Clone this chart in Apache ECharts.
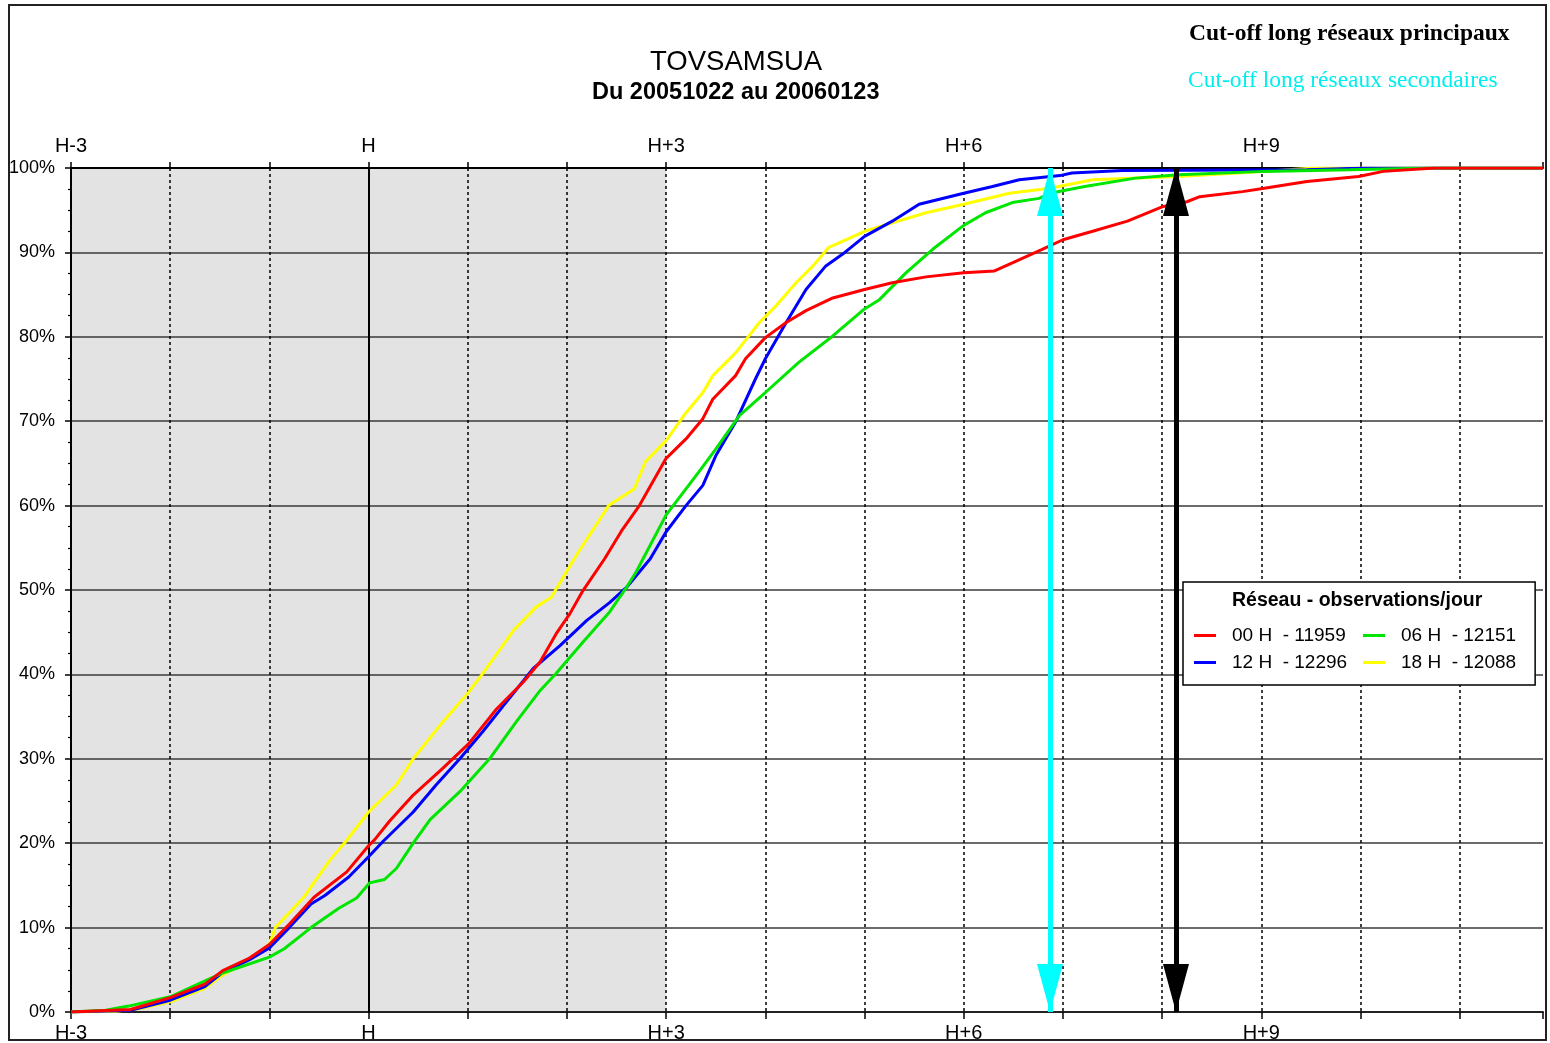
<!DOCTYPE html>
<html><head><meta charset="utf-8">
<script src="https://cdn.jsdelivr.net/npm/echarts@6/dist/echarts.min.js"></script>
<style>html,body{margin:0;padding:0;background:#fff}#c{width:1550px;height:1043px}</style>
</head><body><div id="c"></div>
<script>
// ---- data (hours relative to H, cumulative % of observations received) ----
const hourTicks = [-3, 0, 3, 6, 9];
const hourLabels = ['H-3', 'H', 'H+3', 'H+6', 'H+9'];
const xRange = [-3, 11.84];
const shadedRange = [-3, 3];
const refHour = 0;
const cutoffSecondary = 6.87;
const cutoffPrincipal = 8.14;
const seriesNames = ['00 H  - 11959', '06 H  - 12151', '12 H  - 12296', '18 H  - 12088'];
const seriesColors = ['#ff0000', '#00e600', '#0000ff', '#ffff00'];

const red00 = [[-3,0],[-2.4,0.3],[-2,1.7],[-1.65,3.3],[-1.47,4.9],[-1.2,6.4],[-1,8.0],[-0.8,10.4],[-0.55,13.6],[-0.22,16.6],[0,19.7],[0.06,20.4],[0.21,22.6],[0.45,25.7],[0.75,28.9],[1.01,31.8],[1.29,35.9],[1.56,39.1],[1.73,41.5],[1.89,44.8],[2.03,47.2],[2.16,49.9],[2.38,53.7],[2.55,57],[2.73,60],[3,65.6],[3.2,67.9],[3.37,70.3],[3.47,72.6],[3.7,75.4],[3.8,77.4],[4,79.9],[4.21,81.7],[4.41,83.1],[4.68,84.6],[5,85.6],[5.28,86.4],[5.62,87.1],[6,87.6],[6.31,87.8],[6.44,88.5],[6.78,90.3],[7,91.5],[7.3,92.5],[7.65,93.7],[8,95.4],[8.25,96],[8.38,96.6],[8.81,97.2],[9.03,97.6],[9.46,98.4],[9.98,99],[10.23,99.6],[10.75,100],[11.84,100]];
const green06 = [[-3,0],[-2.65,0.2],[-2.42,0.7],[-2,1.8],[-1.5,4.5],[-1,6.5],[-0.85,7.5],[-0.58,10],[-0.3,12.3],[-0.12,13.5],[0.01,15.3],[0.16,15.7],[0.28,17],[0.45,20],[0.62,22.8],[0.92,26.1],[1.22,30],[1.49,34.4],[1.73,38.1],[1.89,40.1],[2.16,43.8],[2.43,47.4],[2.6,50.3],[2.7,52.2],[3,58.9],[3.33,64],[3.5,66.7],[3.74,70.7],[4,73.4],[4.34,77],[4.68,80.1],[5,83.3],[5.15,84.4],[5.42,87.6],[5.69,90.4],[6,93.2],[6.22,94.7],[6.49,95.9],[6.76,96.4],[6.87,97],[7.22,97.8],[7.73,98.8],[8.16,99.2],[9.03,99.6],[9.89,99.8],[10.7,100],[11.84,100]];
const blue12 = [[-3,0],[-2.4,0.2],[-2,1.4],[-1.65,3],[-1.47,4.7],[-1.2,6.2],[-1,7.6],[-0.8,10],[-0.58,12.8],[-0.44,13.8],[-0.2,16],[0,18.4],[0.145,20.2],[0.45,23.7],[0.68,26.9],[0.92,30],[1.15,33.2],[1.36,36.3],[1.66,40.7],[1.93,43.4],[2.2,46.4],[2.43,48.5],[2.6,50.3],[2.84,53.7],[3,56.9],[3.2,60],[3.37,62.4],[3.5,65.9],[3.7,69.9],[3.9,75],[4,77.4],[4.21,81.7],[4.41,85.6],[4.61,88.4],[4.78,89.8],[5,91.9],[5.28,93.7],[5.55,95.7],[6,97],[6.29,97.8],[6.56,98.6],[6.97,99.1],[7.09,99.4],[7.6,99.7],[9.46,99.8],[10.06,100],[11.84,100]];
const yellow18 = [[-3,0],[-2.55,0.1],[-2.3,0.4],[-2,1.2],[-1.65,2.8],[-1.47,4.4],[-1.2,6.2],[-1,8],[-0.94,10],[-0.66,13.5],[-0.39,18],[-0.23,20.2],[0,23.7],[0.28,26.9],[0.45,30],[0.75,34.4],[1.01,37.9],[1.15,40.1],[1.46,45.2],[1.69,48],[1.84,49.1],[1.89,50.1],[2.1,54.2],[2.42,60],[2.68,62],[2.79,65.2],[3,67.7],[3.18,70.7],[3.37,73.4],[3.47,75.4],[3.7,78.1],[3.94,81.7],[4.11,83.7],[4.31,86.4],[4.48,88.4],[4.64,90.6],[4.85,91.7],[5,92.5],[5.28,93.5],[5.62,94.7],[6,95.7],[6.46,97],[6.87,97.6],[7.3,98.6],[8.16,99],[8.77,99.4],[9.54,100],[11.84,100]];

// ---- chart ----
const FF = 'Liberation Sans';
const chart = echarts.init(document.getElementById('c'));
function hourLabel(v) {
  for (let i = 0; i < hourTicks.length; i++) if (Math.abs(v - hourTicks[i]) < 1e-6) return hourLabels[i];
  return '';
}
function lineSeries(name, data, color) {
  return {name, type: 'line', data, showSymbol: false, symbol: 'none', z: 3,
    lineStyle: {color, width: 3}, itemStyle: {color}, animation: false};
}
const legendCommon = {orient: 'vertical', itemGap: 8, itemWidth: 22, itemHeight: 3, icon: 'rect',
  textStyle: {fontFamily: FF, fontSize: 19, color: '#000', padding: [0, 0, 0, 11]}};
const tri = {symbol: 'triangle', symbolSize: [26, 48], symbolOffset: [0, 24]};
const option = {
  animation: false,
  backgroundColor: '#fff',
  textStyle: {fontFamily: FF},
  graphic: [{type: 'rect', z: -10, shape: {x: 9, y: 5, width: 1537, height: 1035},
    style: {fill: 'none', stroke: '#222', lineWidth: 2}}],
  title: [
    {text: 'TOVSAMSUA', left: 650, top: 48, textAlign: 'left', padding: 0,
      textStyle: {fontFamily: FF, fontSize: 27.5, fontWeight: 'normal', color: '#000'}},
    {text: 'Du 20051022 au 20060123', left: 592, top: 81, textAlign: 'left', padding: 0,
      textStyle: {fontFamily: FF, fontSize: 23.5, fontWeight: 'bold', color: '#000'}},
    {text: 'Cut-off long réseaux principaux', left: 1189, top: 22, textAlign: 'left', padding: 0,
      textStyle: {fontFamily: 'Liberation Serif', fontSize: 23.5, fontWeight: 'bold', color: '#000'}},
    {text: 'Cut-off long réseaux secondaires', left: 1188, top: 69, textAlign: 'left', padding: 0,
      textStyle: {fontFamily: 'Liberation Serif', fontSize: 23.5, fontWeight: 'normal', color: '#00eeee'}},
    {text: 'Réseau - observations/jour', left: 1232, top: 591, textAlign: 'left', padding: 0, z: 10,
      textStyle: {fontFamily: FF, fontSize: 19.5, fontWeight: 'bold', color: '#000'}}
  ],
  legend: [
    Object.assign({}, legendCommon, {
      data: [seriesNames[0], seriesNames[2]], left: 1183, top: 582,
      padding: [44, 188, 13, 11], borderColor: '#000', borderWidth: 1.5, backgroundColor: '#fff', z: 8}),
    Object.assign({}, legendCommon, {
      data: [seriesNames[1], seriesNames[3]], left: 1363, top: 626, padding: 0, z: 9})
  ],
  grid: {left: 71, right: 7, top: 168, bottom: 29, containLabel: false},
  xAxis: [
    {type: 'value', position: 'bottom', min: xRange[0], max: xRange[1], interval: 1, z: 2,
      axisLine: {onZero: false, lineStyle: {color: '#222', width: 2}},
      axisTick: {length: 7, lineStyle: {color: '#000', width: 1.5}},
      axisLabel: {formatter: hourLabel, fontSize: 20, color: '#000', margin: 11, fontFamily: FF},
      splitLine: {show: true, showMinLine: false, showMaxLine: false,
        lineStyle: {type: [3, 3], color: '#000', width: 1.5}}},
    {type: 'value', position: 'top', min: xRange[0], max: xRange[1], interval: 1, z: 2,
      axisLine: {onZero: false, lineStyle: {color: '#000', width: 2}},
      axisTick: {length: 6, lineStyle: {color: '#000', width: 1.5}},
      axisLabel: {formatter: hourLabel, fontSize: 20, color: '#000', margin: 12, fontFamily: FF},
      splitLine: {show: false}}
  ],
  yAxis: {type: 'value', min: 0, max: 100, interval: 10, z: 2,
    axisLine: {show: true, onZero: false, lineStyle: {color: '#000', width: 2}},
    axisTick: {show: true, length: 6, lineStyle: {color: '#000', width: 1.5}},
    minorTick: {show: true, splitNumber: 4, length: 3, lineStyle: {color: '#000', width: 1.2}},
    axisLabel: {formatter: v => v + '%', fontSize: 18, color: '#000', margin: 16, fontFamily: FF},
    splitLine: {show: true, lineStyle: {color: '#3a3a3a', width: 1.6}}},
  series: [
    {type: 'line', data: [], z: 1, silent: true,
      markArea: {z: 1, silent: true, itemStyle: {color: '#e3e3e3'},
        data: [[{xAxis: shadedRange[0], yAxis: 0}, {xAxis: shadedRange[1], yAxis: 100}]]},
      markLine: {z: 2.5, silent: true, symbol: 'none', label: {show: false},
        lineStyle: {color: '#000', width: 2, type: 'solid'},
        data: [[{coord: [refHour, 0]}, {coord: [refHour, 100]}]]}},
    lineSeries(seriesNames[3], yellow18, seriesColors[3]),
    lineSeries(seriesNames[2], blue12, seriesColors[2]),
    lineSeries(seriesNames[1], green06, seriesColors[1]),
    lineSeries(seriesNames[0], red00, seriesColors[0]),
    {type: 'line', data: [], z: 6, silent: true,
      markLine: {z: 6, silent: true, label: {show: false},
        symbol: ['triangle', 'triangle'], symbolSize: [[26, 48], [26, 48]], symbolOffset: [[0, 24], [0, 24]],
        data: [
          [Object.assign({coord: [cutoffSecondary, 0], lineStyle: {color: '#00ffff', width: 5, type: 'solid'}}, tri),
           Object.assign({coord: [cutoffSecondary, 100]}, tri)],
          [Object.assign({coord: [cutoffPrincipal, 0], lineStyle: {color: '#000', width: 5, type: 'solid'}}, tri),
           Object.assign({coord: [cutoffPrincipal, 100]}, tri)]
        ]}}
  ]
};
chart.setOption(option);
</script></body></html>
